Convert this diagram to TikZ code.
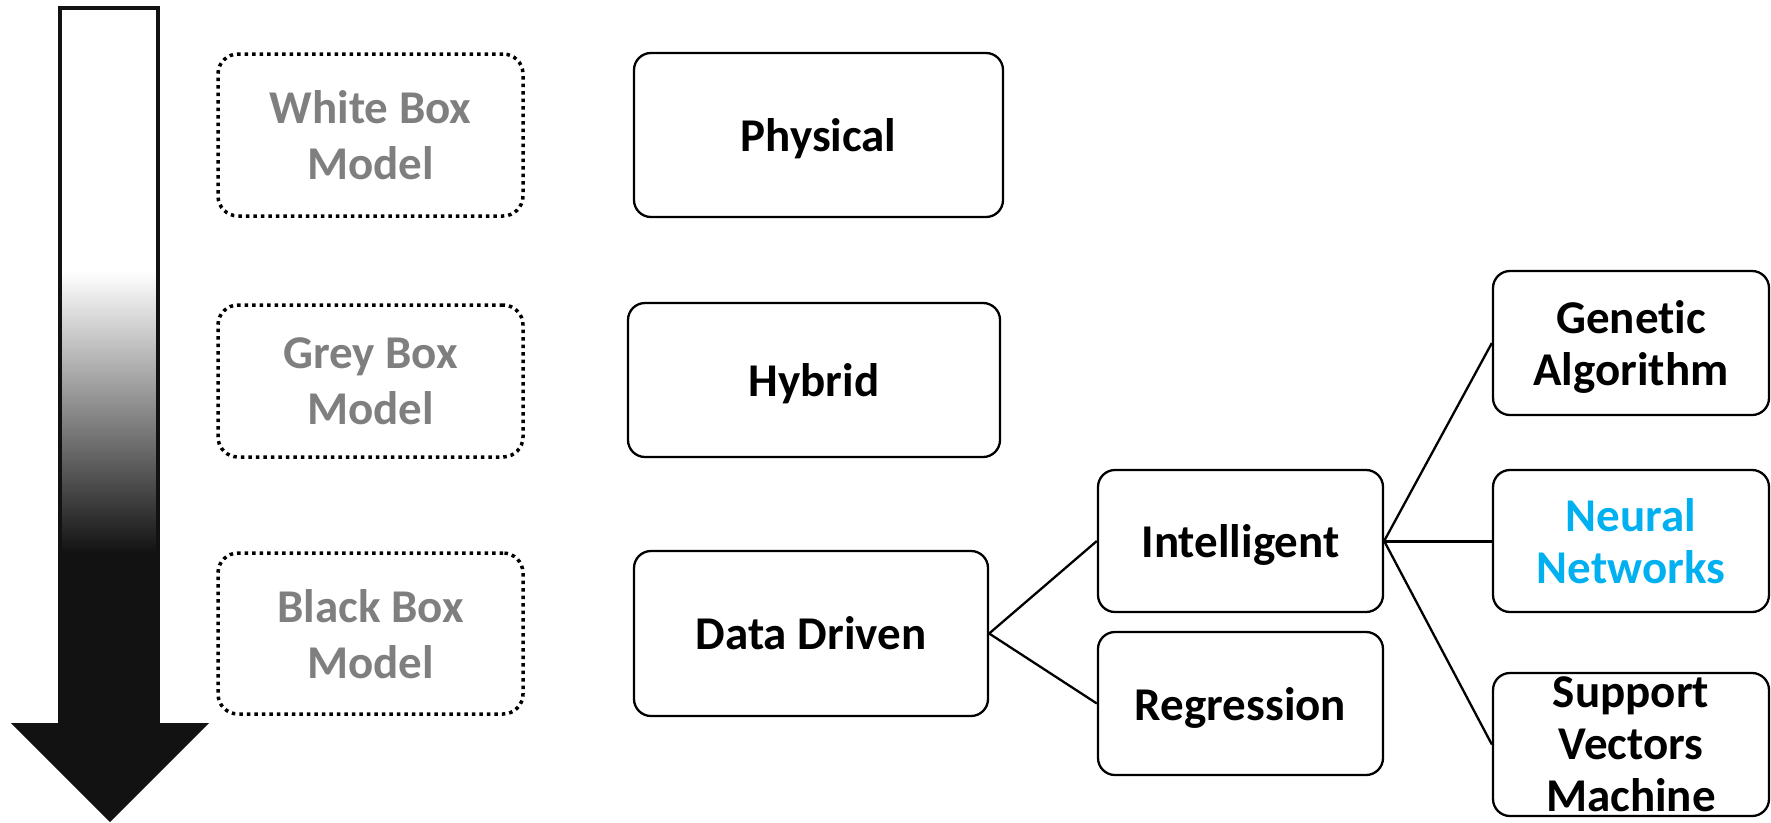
\documentclass[tikz,border=0pt]{standalone}
\usepackage{fontspec}
\setmainfont{Carlito}[Ligatures=CommonOff]
\definecolor{modelgrey}{HTML}{7F7F7F}
\definecolor{nnblue}{HTML}{00B0F0}
\definecolor{arrowblack}{HTML}{121212}
\tikzset{
  solidbox/.style={draw, line width=2.3pt, rounded corners=17pt, align=center,
    inner sep=0pt, text depth=0pt, font=\bfseries\fontsize{47}{52}\selectfont},
  dotbox/.style={draw, line width=3.5pt, dash pattern=on 3.5pt off 4pt,
    rounded corners=20pt, align=center, inner sep=0pt, text depth=0pt,
    text=modelgrey, font=\bfseries\fontsize{47}{56}\selectfont},
  link/.style={line width=2.3pt},
  thicklink/.style={line width=3pt}
}
\begin{document}
\begin{tikzpicture}[x=1pt,y=-1pt]
  \useasboundingbox (0,0) rectangle (1771,822);

  % gradient arrow: white -> black from top to bottom
  \fill[white] (60,8) rectangle (158,271);
  \shade[top color=white, bottom color=arrowblack] (60,271) rectangle (158,553);
  \fill[arrowblack] (60,553) rectangle (158,723);
  \fill[arrowblack] (11,723) -- (209,723) -- (110,822) -- cycle;
  \draw[line width=4pt, line join=miter, draw=arrowblack]
    (60,723) -- (60,8) -- (158,8) -- (158,723);

  % model classes
  \node[dotbox, minimum width=305pt, minimum height=162pt] (white) at (370.5,135) {White Box\\Model};
  \node[dotbox, minimum width=305pt, minimum height=152pt] (grey) at (370.5,381) {Grey Box\\Model};
  \node[dotbox, minimum width=305pt, minimum height=161pt] (black) at (370.5,633.5) {Black Box\\Model};

  % modelling approaches
  \node[solidbox, minimum width=369pt, minimum height=164pt] (phys) at (818.5,135) {Physical};
  \node[solidbox, minimum width=372pt, minimum height=154pt] (hyb) at (814,380) {Hybrid};
  \node[solidbox, minimum width=354pt, minimum height=165pt] (data) at (811,633.5) {Data Driven};

  \node[solidbox, minimum width=285pt, minimum height=142pt] (intel) at (1240.5,541) {Intelligent};
  \node[solidbox, minimum width=285pt, minimum height=143pt] (regr) at (1240.5,703.5) {Regression};

  \node[solidbox, minimum width=276pt, minimum height=144pt] (ga) at (1631,343) {Genetic\\Algorithm};
  \node[solidbox, minimum width=276pt, minimum height=142pt, text=nnblue] (nn) at (1631,541) {Neural\\Networks};
  \node[solidbox, minimum width=276pt, minimum height=143pt] (svm) at (1631,744.5) {Support\\Vectors\\Machine};

  % connectors
  \draw[link] (data.east) -- (intel.west);
  \draw[link] (data.east) -- (regr.west);
  \draw[link] (intel.east) -- (ga.west);
  \draw[thicklink] (intel.east) -- (nn.west);
  \draw[link] (intel.east) -- (svm.west);
\end{tikzpicture}
\end{document}
